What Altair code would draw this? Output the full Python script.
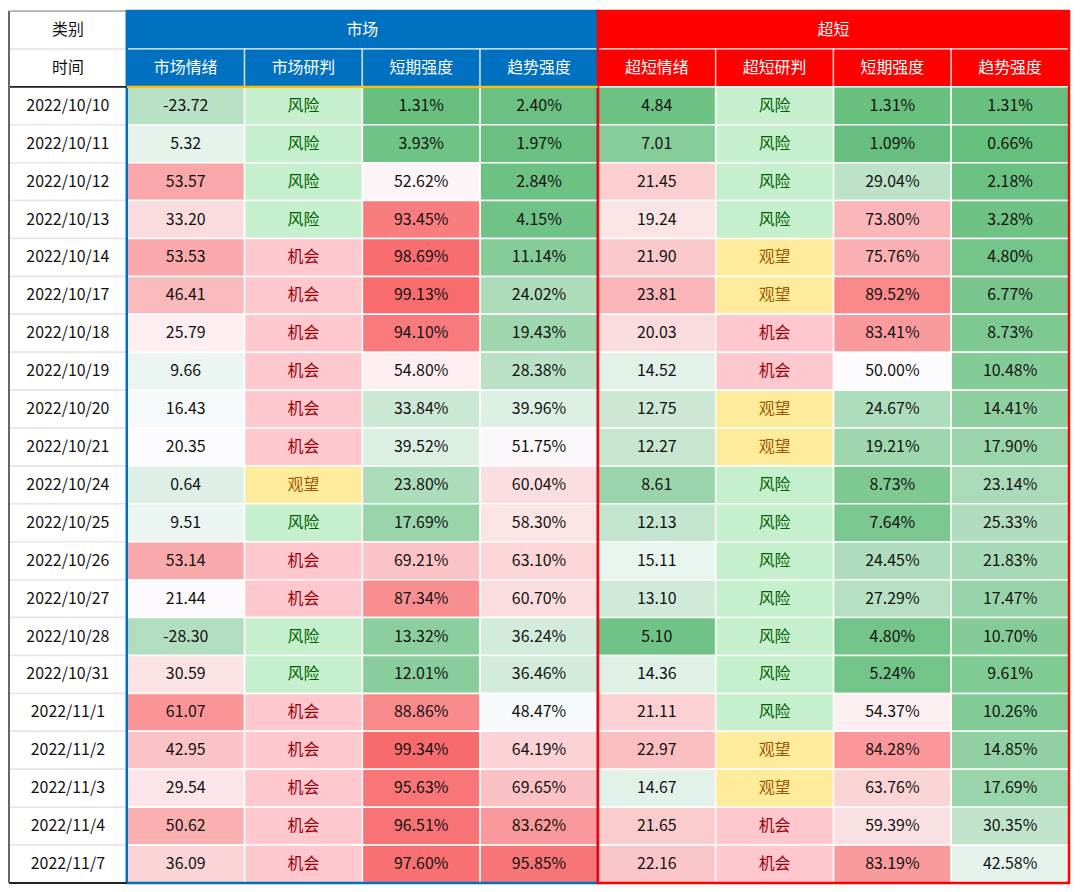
import altair as alt
import pandas as pd

dates = ["2022/10/10", "2022/10/11", "2022/10/12", "2022/10/13", "2022/10/14",
         "2022/10/17", "2022/10/18", "2022/10/19", "2022/10/20", "2022/10/21",
         "2022/10/24", "2022/10/25", "2022/10/26", "2022/10/27", "2022/10/28",
         "2022/10/31", "2022/11/1", "2022/11/2", "2022/11/3", "2022/11/4", "2022/11/7"]

mkt_mood = [-23.72, 5.32, 53.57, 33.20, 53.53, 46.41, 25.79, 9.66, 16.43, 20.35, 0.64,
            9.51, 53.14, 21.44, -28.30, 30.59, 61.07, 42.95, 29.54, 50.62, 36.09]
mkt_judge = ["风险", "风险", "风险", "风险", "机会", "机会", "机会", "机会", "机会", "机会", "观望",
             "风险", "机会", "机会", "风险", "风险", "机会", "机会", "机会", "机会", "机会"]
mkt_short = [1.31, 3.93, 52.62, 93.45, 98.69, 99.13, 94.10, 54.80, 33.84, 39.52, 23.80,
             17.69, 69.21, 87.34, 13.32, 12.01, 88.86, 99.34, 95.63, 96.51, 97.60]
mkt_trend = [2.40, 1.97, 2.84, 4.15, 11.14, 24.02, 19.43, 28.38, 39.96, 51.75, 60.04,
             58.30, 63.10, 60.70, 36.24, 36.46, 48.47, 64.19, 69.65, 83.62, 95.85]
ss_mood = [4.84, 7.01, 21.45, 19.24, 21.90, 23.81, 20.03, 14.52, 12.75, 12.27, 8.61,
           12.13, 15.11, 13.10, 5.10, 14.36, 21.11, 22.97, 14.67, 21.65, 22.16]
ss_judge = ["风险", "风险", "风险", "风险", "观望", "观望", "机会", "机会", "观望", "观望", "风险",
            "风险", "风险", "风险", "风险", "风险", "风险", "观望", "观望", "机会", "机会"]
ss_short = [1.31, 1.09, 29.04, 73.80, 75.76, 89.52, 83.41, 50.00, 24.67, 19.21, 8.73,
            7.64, 24.45, 27.29, 4.80, 5.24, 54.37, 84.28, 63.76, 59.39, 83.19]
ss_trend = [1.31, 0.66, 2.18, 3.28, 4.80, 6.77, 8.73, 10.48, 14.41, 17.90, 23.14,
            25.33, 21.83, 17.47, 10.70, 9.61, 10.26, 14.85, 17.69, 30.35, 42.58]

group_titles = ["市场", "超短"]
sub_titles = ["市场情绪", "市场研判", "短期强度", "趋势强度", "超短情绪", "超短研判", "短期强度", "趋势强度"]
corner_titles = ["类别", "时间"]
judge_levels = ["风险", "机会", "观望"]

# colour-scale anchors (low, middle, high) for each numeric column
anchors = {1: (-80, 20.5, 78), 3: (0, 50, 100), 4: (0, 50, 100),
           5: (4, 16.8, 31.5), 7: (0, 50, 100), 8: (0, 50, 100)}

columns = [(1, mkt_mood, "num"), (2, mkt_judge, "cat"), (3, mkt_short, "pct"), (4, mkt_trend, "pct"),
           (5, ss_mood, "num"), (6, ss_judge, "cat"), (7, ss_short, "pct"), (8, ss_trend, "pct")]

num_rows, cat_rows, date_rows = [], [], []
for i, d in enumerate(dates):
    r = i + 2
    date_rows.append(dict(x0=0, x1=1, y0=r, y1=r + 1, xc=0.5, yc=r + 0.5, label=d))
    for c, series, kind in columns:
        v = series[i]
        base = dict(x0=c, x1=c + 1, y0=r, y1=r + 1, xc=c + 0.5, yc=r + 0.5)
        if kind == "cat":
            cat_rows.append(dict(base, label=v))
        else:
            lo, mid, hi = anchors[c]
            if v < mid:
                t = max(-1.0, (v - mid) / (mid - lo))
            else:
                t = min(1.0, (v - mid) / (hi - mid))
            lab = f"{v:.2f}%" if kind == "pct" else f"{v:.2f}"
            num_rows.append(dict(base, t=t, label=lab))

num_df = pd.DataFrame(num_rows)
cat_df = pd.DataFrame(cat_rows)
date_df = pd.DataFrame(date_rows)

head_rows = [dict(x0=1, x1=5, y0=0, y1=1, xc=3, yc=0.5, label=group_titles[0], grp="mkt"),
             dict(x0=5, x1=9, y0=0, y1=1, xc=7, yc=0.5, label=group_titles[1], grp="ss")]
for k, s in enumerate(sub_titles):
    c = k + 1
    head_rows.append(dict(x0=c, x1=c + 1, y0=1, y1=2, xc=c + 0.5, yc=1.5, label=s,
                          grp="mkt" if c <= 4 else "ss"))
head_df = pd.DataFrame(head_rows)
corner_df = pd.DataFrame([dict(x0=0, x1=1, y0=k, y1=k + 1, xc=0.5, yc=k + 0.5, label=s)
                          for k, s in enumerate(corner_titles)])

W, H = 1065, 876
xs = alt.Scale(domain=[0, 9], nice=False, zero=False)
ys = alt.Scale(domain=[0, 23], nice=False, zero=False, reverse=True)
FONT = "Noto Sans CJK SC"


def rect_enc(base):
    return base.encode(x=alt.X("x0:Q", scale=xs, axis=None), x2="x1:Q",
                       y=alt.Y("y0:Q", scale=ys, axis=None), y2="y1:Q")


def text_enc(base):
    return base.encode(x=alt.X("xc:Q", scale=xs, axis=None),
                       y=alt.Y("yc:Q", scale=ys, axis=None), text="label:N")


num_rect = rect_enc(alt.Chart(num_df).mark_rect(stroke="#FFFFFF", strokeWidth=1.5)).encode(
    fill=alt.Fill("t:Q", scale=alt.Scale(domain=[-1, 0, 1], range=["#63BE7B", "#FCFCFF", "#F8696B"],
                                         interpolate="rgb"),
                  legend=None))
cat_rect = rect_enc(alt.Chart(cat_df).mark_rect(stroke="#FFFFFF", strokeWidth=1.5)).encode(
    fill=alt.Fill("label:N", scale=alt.Scale(domain=judge_levels, range=["#C6EFCE", "#FFC7CE", "#FFEB9C"]),
                  legend=None))
date_rect = rect_enc(alt.Chart(date_df).mark_rect(fill="#FFFFFF", stroke="#E6E6E6", strokeWidth=1.5))
corner_rect = rect_enc(alt.Chart(corner_df).mark_rect(fill="#FFFFFF", stroke="#E6E6E6", strokeWidth=1.5))
head_rect = rect_enc(alt.Chart(head_df).mark_rect(stroke="#FFFFFF", strokeWidth=1.5, strokeOpacity=0.65)).encode(
    fill=alt.Fill("grp:N", scale=alt.Scale(domain=["mkt", "ss"], range=["#0070C0", "#FF0000"]), legend=None))

txt_kw = dict(font=FONT, fontSize=16, align="center", baseline="middle")
num_text = text_enc(alt.Chart(num_df).mark_text(color="#111111", **txt_kw))
date_text = text_enc(alt.Chart(date_df).mark_text(color="#111111", **txt_kw))
corner_text = text_enc(alt.Chart(corner_df).mark_text(color="#111111", **txt_kw))
head_text = text_enc(alt.Chart(head_df).mark_text(color="#FFFFFF", **txt_kw))
cat_text = text_enc(alt.Chart(cat_df).mark_text(**txt_kw)).encode(
    color=alt.Color("label:N", scale=alt.Scale(domain=judge_levels, range=["#006100", "#9C0006", "#9C5700"]),
                    legend=None))

frames = pd.DataFrame([dict(x0=1, x1=5, y0=0, y1=23, grp="mkt"), dict(x0=5, x1=9, y0=0, y1=23, grp="ss")])
blue_frame = rect_enc(alt.Chart(frames[frames.grp == "mkt"]).mark_rect(
    fillOpacity=0, stroke="#0070C0", strokeWidth=2.5))
red_frame = rect_enc(alt.Chart(frames[frames.grp == "ss"]).mark_rect(
    fillOpacity=0, stroke="#FF0000", strokeWidth=2.5))

gold = pd.DataFrame([dict(x0=1, x1=5, y0=2)])
gold_line = alt.Chart(gold).mark_rule(color="#FFC000", strokeWidth=2.5).encode(
    x=alt.X("x0:Q", scale=xs, axis=None), x2="x1:Q", y=alt.Y("y0:Q", scale=ys, axis=None))

hlines = pd.DataFrame([dict(x0=0, x1=1, y0=2), dict(x0=0, x1=1, y0=23)])
date_hlines = alt.Chart(hlines).mark_rule(color="#222222", strokeWidth=2).encode(
    x=alt.X("x0:Q", scale=xs, axis=None), x2="x1:Q", y=alt.Y("y0:Q", scale=ys, axis=None))
vline = pd.DataFrame([dict(x0=0, y0=0, y1=23)])
date_vline = alt.Chart(vline).mark_rule(color="#666666", strokeWidth=2).encode(
    x=alt.X("x0:Q", scale=xs, axis=None), y=alt.Y("y0:Q", scale=ys, axis=None), y2="y1:Q")
topl = pd.DataFrame([dict(x0=0, x1=1, y0=0)])
date_top = alt.Chart(topl).mark_rule(color="#888888", strokeWidth=1).encode(
    x=alt.X("x0:Q", scale=xs, axis=None), x2="x1:Q", y=alt.Y("y0:Q", scale=ys, axis=None))

chart = alt.layer(
    date_rect, corner_rect, head_rect, num_rect, cat_rect,
    blue_frame, red_frame, gold_line, date_hlines, date_vline, date_top,
    num_text, cat_text, date_text, corner_text, head_text,
).resolve_scale(fill="independent", color="independent").properties(
    width=W, height=H, padding={"left": 1, "top": 1, "right": 3, "bottom": 3}, background="#FFFFFF",
    autosize=alt.AutoSizeParams(type="none")
).configure_view(stroke=None)

chart.save("out.html", embed_options={"renderer": "svg", "actions": False})
